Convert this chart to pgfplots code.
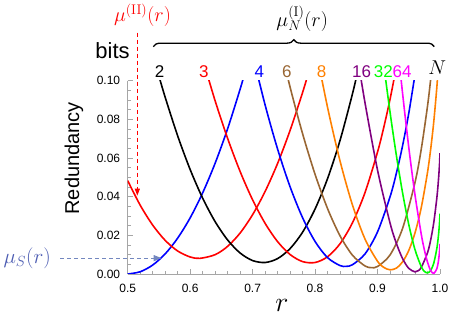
\RequirePackage{fix-cm}
\documentclass[border=0pt]{standalone}
\usepackage[no-math]{fontspec}
\setmainfont{Liberation Sans}
\usepackage{pgfplots}
\pgfplotsset{compat=1.18}
\usetikzlibrary{decorations.pathreplacing,arrows.meta}

\definecolor{mbrown}{rgb}{0.6,0.4,0.2}
\definecolor{morange}{rgb}{1,0.5,0}
\definecolor{mpurple}{rgb}{0.5,0,0.5}
\definecolor{mgreen}{rgb}{0,1,0}
\definecolor{mmagenta}{rgb}{1,0,1}
\definecolor{slate}{rgb}{0.30,0.36,0.70}
\definecolor{slatearrow}{rgb}{0.45,0.53,0.75}
\definecolor{axgray}{gray}{0.65}

\begin{document}
\begin{tikzpicture}
\useasboundingbox (-127.7pt,-47pt) rectangle (330.3pt,274pt);
\begin{axis}[
  scale only axis, width=312.3pt, height=193.3pt,
  xmin=0.5, xmax=1.0, ymin=0, ymax=0.10,
  axis x line*=bottom, axis y line*=left,
  axis line style={axgray, line width=0.6pt},
  tick align=inside,
  major tick length=5pt, minor tick length=3pt,
  tick style={axgray, line width=0.6pt},
  xtick={0.5,0.6,0.7,0.8,0.9,1.0},
  xticklabels={0.5,0.6,0.7,0.8,0.9,1.0},
  ytick={0,0.02,0.04,0.06,0.08,0.10},
  yticklabels={0.00,0.02,0.04,0.06,0.08,0.10},
  minor x tick num=4, minor y tick num=3,
  scaled y ticks=false, scaled x ticks=false,
  tick label style={font=\fontsize{12}{14}\selectfont, black},
  xticklabel style={yshift=-7pt},
  yticklabel style={xshift=-4pt},
  clip mode=individual,
  every axis plot/.append style={line width=1.6pt, smooth},
]
% mu_S
\addplot[blue] coordinates {(0.50,0) (0.52,0.001155) (0.54,0.004622) (0.56,0.010412) (0.58,0.018546) (0.60,0.029049) (0.62,0.041958) (0.64,0.057317) (0.66,0.075181) (0.68,0.095619) (0.69,0.106826)};
% mu^(II)
\addplot[red] coordinates {(0.50,0.0483) (0.52,0.0356) (0.54,0.0253) (0.56,0.0174) (0.58,0.0119) (0.60,0.0088) (0.6157,0.0081) (0.64,0.0100) (0.66,0.0143) (0.68,0.0212) (0.70,0.0307) (0.72,0.0427) (0.74,0.0572) (0.76,0.0743) (0.78,0.0939) (0.79,0.1047)};
% N = 2
\addplot[black] coordinates {(0.55,0.102387) (0.56,0.091438) (0.58,0.071457) (0.60,0.054049) (0.62,0.039242) (0.64,0.027073) (0.66,0.017591) (0.68,0.010857) (0.70,0.006944) (0.72,0.005945) (0.74,0.007967) (0.76,0.013141) (0.78,0.021630) (0.80,0.033628) (0.82,0.049374) (0.84,0.069168) (0.86,0.093396) (0.87,0.107321)};
% N = 3
\addplot[red] coordinates {(0.62,0.111277) (0.64,0.089573) (0.66,0.070127) (0.68,0.053020) (0.70,0.038344) (0.72,0.026208) (0.74,0.016737) (0.76,0.010079) (0.78,0.006410) (0.80,0.005941) (0.82,0.008923) (0.84,0.015671) (0.86,0.026582) (0.88,0.042164) (0.90,0.063107) (0.91,0.075877) (0.92,0.090384) (0.93,0.106826)};
% N = 4
\addplot[blue] coordinates {(0.70,0.113498) (0.72,0.087450) (0.74,0.064611) (0.76,0.045115) (0.78,0.029122) (0.80,0.016825) (0.82,0.008463) (0.84,0.004333) (0.85,0.003972) (0.86,0.004819) (0.88,0.010410) (0.90,0.021786) (0.92,0.039902) (0.93,0.051912) (0.94,0.066214) (0.95,0.083154) (0.96,0.103216)};
% N = 6
\addplot[mbrown] coordinates {(0.74,0.123602) (0.76,0.096672) (0.78,0.072584) (0.80,0.051548) (0.82,0.033821) (0.84,0.019724) (0.86,0.009659) (0.88,0.004143) (0.89,0.003300) (0.90,0.003874) (0.92,0.009835) (0.94,0.023503) (0.96,0.047399) (0.97,0.064604) (0.98,0.086818) (0.985,0.100515) (0.99,0.116688)};
% N = 8
\addplot[morange] coordinates {(0.80,0.118391) (0.82,0.086171) (0.84,0.058421) (0.86,0.035539) (0.88,0.018031) (0.90,0.006587) (0.91,0.003423) (0.92,0.002167) (0.93,0.003017) (0.94,0.006231) (0.95,0.012156) (0.96,0.021278) (0.97,0.034333) (0.98,0.052573) (0.985,0.064352) (0.99,0.078648) (0.995,0.096789) (0.9975,0.108385)};
% N = 16
\addplot[mpurple] coordinates {(0.86,0.129529) (0.87,0.108257) (0.88,0.088465) (0.90,0.053749) (0.92,0.026428) (0.93,0.015989) (0.94,0.008031) (0.95,0.002909) (0.96,0.001112) (0.965,0.001676) (0.97,0.003380) (0.98,0.010971) (0.985,0.017472) (0.99,0.026527) (0.995,0.039462) (0.9975,0.048467) (0.999,0.055560) (0.9995,0.058531) (1.0,0.0625)};
% N = 32
\addplot[mgreen] coordinates {(0.90,0.134560) (0.91,0.108157) (0.92,0.083786) (0.93,0.061687) (0.94,0.042166) (0.95,0.025616) (0.96,0.012564) (0.97,0.003786) (0.975,0.001367) (0.98,0.000567) (0.985,0.001757) (0.99,0.005567) (0.995,0.013324) (0.9975,0.019765) (0.999,0.025328) (0.9995,0.027790) (1.0,0.03125)};
% N = 64
\addplot[mmagenta] coordinates {(0.93,0.124757) (0.94,0.093721) (0.95,0.065552) (0.96,0.040874) (0.97,0.020588) (0.975,0.012505) (0.98,0.006126) (0.985,0.001838) (0.99,0.000285) (0.995,0.002804) (0.9975,0.006677) (0.999,0.010714) (0.9995,0.012669) (1.0,0.015625)};

% labels
\node[font=\fontsize{20}{24}\selectfont, rotate=90] at (axis cs:0.4141,0.0598) {Redundancy};
\node[font=\fontsize{22}{26}\selectfont] at (axis cs:0.4757,0.1154) {bits};
\node[font=\fontsize{28}{32}\selectfont] at (axis cs:0.7469,-0.0161) {$r$};

\node[font=\fontsize{17}{20}\selectfont, black] at (axis cs:0.5509,0.1049) {2};
\node[font=\fontsize{17}{20}\selectfont, red] at (axis cs:0.6221,0.1049) {3};
\node[font=\fontsize{17}{20}\selectfont, blue] at (axis cs:0.7106,0.1049) {4};
\node[font=\fontsize{17}{20}\selectfont, mbrown] at (axis cs:0.7549,0.1049) {6};
\node[font=\fontsize{17}{20}\selectfont, morange] at (axis cs:0.8104,0.1049) {8};
\node[font=\fontsize{17}{20}\selectfont, mpurple] at (axis cs:0.8744,0.1049) {16};
\node[font=\fontsize{17}{20}\selectfont, mgreen] at (axis cs:0.9093,0.1049) {32};
\node[font=\fontsize{17}{20}\selectfont, mmagenta] at (axis cs:0.9394,0.1049) {64};
\node[font=\fontsize{20}{24}\selectfont, black] at (axis cs:0.9957,0.1066) {$N$};

\draw[decorate, decoration={brace, amplitude=7pt}, line width=1.3pt] (axis cs:0.5410,0.1176) -- (axis cs:0.9909,0.1176);
\node[font=\fontsize{20}{24}\selectfont] at (axis cs:0.7794,0.1321) {$\mu_N^{(\mathrm{I})}(r)$};

\node[red, font=\fontsize{20}{24}\selectfont] at (axis cs:0.5237,0.1337) {$\mu^{(\mathrm{II})}(r)$};
\draw[red, line width=1pt, dash pattern=on 4pt off 3pt, -{Triangle[length=7pt,width=5pt]}] (axis cs:0.5154,0.1249) -- (axis cs:0.5154,0.0405);

\node[slate, font=\fontsize{21}{25}\selectfont] at (axis cs:0.3392,0.0083) {$\mu_S(r)$};
\draw[slatearrow, line width=1pt, dash pattern=on 4pt off 3pt, -{Triangle[length=8pt,width=6pt]}] (axis cs:0.3917,0.0082) -- (axis cs:0.5544,0.0082);
\end{axis}
\end{tikzpicture}
\end{document}
